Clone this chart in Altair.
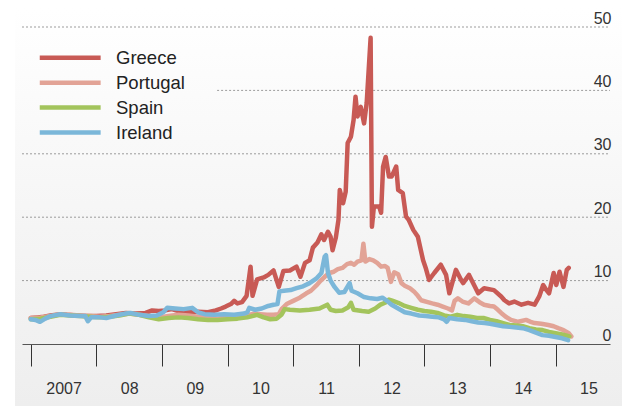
import altair as alt
import pandas as pd

countries = ["Greece", "Portugal", "Spain", "Ireland"]
colors = ["#c85a55", "#e2a396", "#a3c45c", "#7bb7d9"]

greece_years = [2007.00, 2007.10, 2007.20, 2007.30, 2007.45, 2007.55, 2007.70, 2007.85, 2008.00, 2008.15,
                2008.30, 2008.45, 2008.60, 2008.75, 2008.85, 2008.95, 2009.05, 2009.15, 2009.25, 2009.40,
                2009.55, 2009.70, 2009.82, 2009.90, 2009.97, 2010.05, 2010.10, 2010.15, 2010.22, 2010.29,
                2010.35, 2010.38, 2010.45, 2010.55, 2010.62, 2010.70, 2010.78, 2010.85, 2010.95, 2011.05,
                2011.11, 2011.18, 2011.25, 2011.30, 2011.37, 2011.43, 2011.47, 2011.53, 2011.57, 2011.60,
                2011.65, 2011.69, 2011.71, 2011.76, 2011.80, 2011.83, 2011.88, 2011.92, 2011.95, 2011.98,
                2012.03, 2012.08, 2012.12, 2012.18, 2012.20, 2012.23, 2012.31, 2012.34, 2012.37, 2012.41,
                2012.46, 2012.50, 2012.57, 2012.60, 2012.67, 2012.72, 2012.76, 2012.83, 2012.90, 2012.98,
                2013.02, 2013.07, 2013.15, 2013.25, 2013.33, 2013.38, 2013.48, 2013.56, 2013.59, 2013.68,
                2013.82, 2013.91, 2014.06, 2014.17, 2014.22, 2014.29, 2014.37, 2014.48, 2014.58, 2014.68,
                2014.75, 2014.81, 2014.86, 2014.90, 2014.97, 2015.01, 2015.06, 2015.12, 2015.17, 2015.20]
greece_vals = [4.1, 4.2, 4.3, 4.5, 4.7, 4.6, 4.5, 4.4, 4.4, 4.5,
               4.7, 4.9, 4.8, 4.9, 5.3, 5.2, 5.3, 5.5, 5.2, 5.0,
               5.1, 5.0, 5.3, 5.6, 5.9, 6.3, 6.8, 6.4, 6.6, 7.6,
               12.2, 7.6, 10.2, 10.5, 10.9, 11.6, 9.0, 11.5, 11.6, 12.2,
               10.6, 12.8, 13.2, 15.2, 16.0, 17.3, 16.4, 17.7, 16.9, 14.8,
               16.8, 19.6, 24.3, 22.2, 24.0, 31.7, 32.7, 35.3, 39.0, 35.9,
               37.4, 34.8, 38.0, 48.3, 18.5, 21.7, 21.7, 20.7, 28.0, 29.5,
               26.4, 26.4, 28.0, 24.3, 23.8, 20.1, 19.6, 18.0, 16.9, 13.2,
               12.0, 10.1, 11.2, 12.5, 10.9, 8.0, 11.7, 10.1, 9.6, 10.9,
               8.0, 8.8, 8.5, 7.5, 6.9, 6.4, 6.7, 6.2, 6.5, 6.2,
               7.5, 9.3, 8.5, 8.0, 11.2, 9.3, 11.4, 9.0, 11.7, 12.0]

portugal_years = [2007.00, 2007.15, 2007.30, 2007.45, 2007.60, 2007.75, 2007.90, 2008.05, 2008.20, 2008.35,
                  2008.50, 2008.65, 2008.80, 2008.95, 2009.10, 2009.25, 2009.40, 2009.55, 2009.70, 2009.85,
                  2010.00, 2010.15, 2010.30, 2010.40, 2010.50, 2010.60, 2010.70, 2010.78, 2010.83, 2010.90,
                  2011.00, 2011.10, 2011.20, 2011.27, 2011.35, 2011.42, 2011.48, 2011.55, 2011.62, 2011.68,
                  2011.75, 2011.82, 2011.88, 2011.93, 2011.98, 2012.04, 2012.07, 2012.10, 2012.16, 2012.22,
                  2012.28, 2012.34, 2012.40, 2012.44, 2012.49, 2012.54, 2012.60, 2012.65, 2012.70, 2012.78,
                  2012.84, 2012.90, 2012.95, 2013.05, 2013.12, 2013.20, 2013.28, 2013.36, 2013.42, 2013.46,
                  2013.51, 2013.58, 2013.67, 2013.76, 2013.84, 2013.91, 2014.00, 2014.06, 2014.12, 2014.17,
                  2014.24, 2014.32, 2014.43, 2014.55, 2014.62, 2014.68, 2014.78, 2014.89, 2014.97, 2015.04,
                  2015.12, 2015.20, 2015.24]
portugal_vals = [4.1, 4.2, 4.4, 4.7, 4.6, 4.5, 4.4, 4.3, 4.4, 4.6,
                 4.8, 4.6, 4.4, 4.2, 4.4, 4.6, 4.5, 4.3, 4.2, 4.0,
                 4.3, 4.4, 4.5, 4.8, 4.7, 4.6, 4.6, 4.7, 5.6, 6.3,
                 6.8, 7.3, 8.0, 8.4, 9.2, 10.0, 10.6, 11.2, 11.4, 11.8,
                 12.0, 12.6, 12.8, 12.5, 13.0, 13.2, 15.8, 13.0, 13.4, 13.2,
                 12.8, 12.2, 12.3, 12.0, 9.8, 11.3, 11.0, 9.6, 9.2, 8.8,
                 8.3, 7.6, 6.9, 6.6, 6.4, 6.2, 5.9, 5.6, 5.3, 6.8,
                 7.2, 6.7, 6.4, 7.2, 6.6, 6.2, 6.0, 5.9, 5.4, 4.9,
                 4.3, 3.8, 3.5, 3.8, 3.5, 3.3, 3.2, 3.0, 2.8, 2.5,
                 2.2, 1.7, 1.2]

spain_years = [2007.00, 2007.15, 2007.30, 2007.45, 2007.60, 2007.75, 2007.90, 2008.05, 2008.20, 2008.35,
               2008.50, 2008.65, 2008.80, 2008.95, 2009.10, 2009.25, 2009.40, 2009.55, 2009.70, 2009.85,
               2010.00, 2010.15, 2010.30, 2010.45, 2010.55, 2010.65, 2010.75, 2010.82, 2010.87, 2010.95,
               2011.10, 2011.25, 2011.40, 2011.52, 2011.57, 2011.65, 2011.75, 2011.84, 2011.88, 2011.92,
               2012.05, 2012.15, 2012.25, 2012.33, 2012.40, 2012.46, 2012.52, 2012.60, 2012.70, 2012.80,
               2012.90, 2013.00, 2013.10, 2013.20, 2013.30, 2013.40, 2013.50, 2013.60, 2013.70, 2013.80,
               2013.90, 2014.00, 2014.10, 2014.20, 2014.30, 2014.40, 2014.50, 2014.60, 2014.70, 2014.80,
               2014.90, 2015.00, 2015.10, 2015.21]
spain_vals = [3.9, 4.0, 4.3, 4.6, 4.5, 4.4, 4.3, 4.2, 4.3, 4.5,
              4.8, 4.6, 4.2, 3.9, 4.1, 4.2, 4.1, 3.9, 3.8, 3.8,
              3.9, 4.0, 4.2, 4.6, 4.2, 3.9, 4.0, 4.6, 5.5, 5.4,
              5.3, 5.4, 5.6, 6.2, 5.4, 5.2, 5.3, 5.8, 6.5, 5.4,
              5.2, 5.1, 5.6, 6.2, 6.5, 7.0, 6.8, 6.5, 6.0, 5.7,
              5.4, 5.2, 5.1, 4.9, 4.5, 4.3, 4.6, 4.4, 4.3, 4.1,
              4.1, 3.8, 3.6, 3.3, 3.0, 2.9, 2.8, 2.5, 2.3, 2.2,
              1.9, 1.7, 1.5, 1.2]

ireland_years = [2007.00, 2007.07, 2007.14, 2007.22, 2007.30, 2007.45, 2007.60, 2007.75, 2007.83, 2007.87,
                 2007.92, 2008.05, 2008.15, 2008.30, 2008.45, 2008.52, 2008.65, 2008.80, 2008.92, 2009.02,
                 2009.08, 2009.20, 2009.33, 2009.46, 2009.55, 2009.65, 2009.80, 2009.95, 2010.10, 2010.25,
                 2010.30, 2010.33, 2010.42, 2010.52, 2010.62, 2010.70, 2010.76, 2010.79, 2010.86, 2010.96,
                 2011.05, 2011.15, 2011.25, 2011.35, 2011.43, 2011.48, 2011.50, 2011.53, 2011.57, 2011.63,
                 2011.70, 2011.78, 2011.86, 2011.89, 2011.98, 2012.08, 2012.18, 2012.28, 2012.36, 2012.43,
                 2012.50, 2012.60, 2012.70, 2012.80, 2012.92, 2013.02, 2013.12, 2013.22, 2013.30, 2013.34,
                 2013.38, 2013.50, 2013.62, 2013.72, 2013.82, 2013.92, 2014.00, 2014.10, 2014.20, 2014.30,
                 2014.40, 2014.50, 2014.60, 2014.70, 2014.80, 2014.90, 2015.00, 2015.10, 2015.19]
ireland_vals = [3.9, 3.8, 3.5, 4.0, 4.4, 4.7, 4.5, 4.4, 4.4, 3.6,
                4.2, 4.2, 4.1, 4.5, 4.8, 4.9, 4.6, 4.4, 4.5, 5.0,
                5.7, 5.6, 5.5, 5.7, 5.0, 4.7, 4.6, 4.7, 4.6, 4.8,
                5.0, 5.7, 5.4, 5.6, 6.0, 6.2, 6.3, 8.3, 8.4, 8.5,
                8.8, 9.1, 9.6, 10.3, 11.2, 13.8, 14.0, 11.2, 10.0, 9.0,
                8.1, 8.2, 9.6, 8.4, 8.0, 7.4, 7.2, 7.1, 7.3, 6.8,
                6.2, 5.6, 5.0, 4.8, 4.5, 4.4, 4.3, 4.2, 3.9, 3.5,
                4.1, 3.9, 3.8, 3.6, 3.4, 3.3, 3.2, 3.0, 2.8, 2.7,
                2.6, 2.5, 2.2, 1.8, 1.4, 1.3, 1.1, 0.9, 0.6]

year_ticks = [2007, 2008, 2009, 2010, 2011, 2012, 2013, 2014, 2015]
year_labels = ["2007", "08", "09", "10", "11", "12", "13", "14", "15"]
y_ticks = [0, 10, 20, 30, 40, 50]
x_domain = [2006.866, 2015.829]
grid_values = [10, 20, 30, 40, 50]
grid_start = [2006.866, 2006.866, 2006.866, 2009.84, 2006.866]

series = [("Greece", greece_years, greece_vals), ("Portugal", portugal_years, portugal_vals),
          ("Spain", spain_years, spain_vals), ("Ireland", ireland_years, ireland_vals)]
rows = []
for name, ys, vs in series:
    for yr, v in zip(ys, vs):
        rows.append({"country": name, "year": yr, "value": v})
df = pd.DataFrame(rows)

grid_df = pd.DataFrame({"value": grid_values, "start": grid_start, "end": [x_domain[1]] * len(grid_values)})

FONT = "Liberation Sans"
xscale = alt.Scale(domain=x_domain, nice=False, zero=False)
yscale = alt.Scale(domain=[0, 50], nice=False, zero=True)

label_expr = "[" + ",".join("'%s'" % s for s in year_labels) + "][datum.value - %d]" % year_ticks[0]
xaxis = alt.Axis(values=year_ticks, labelExpr=label_expr, tickSize=22, tickColor="#333333", tickWidth=1,
                 domainColor="#555555", domainWidth=1, labelOffset=32.8, labelPadding=14,
                 labelFontSize=16, labelColor="#333333", labelFont=FONT, grid=False, title=None,
                 labelFlush=False, labelOverlap=False, labelBaseline="top", labelAlign="center",
                 zindex=1)
yaxis = alt.Axis(orient="right", values=y_ticks, grid=False, domain=False, ticks=False, tickSize=0,
                 labelAlign="right", labelPadding=1, labelOffset=-4, labelBaseline="alphabetic",
                 labelFontSize=16, labelColor="#333333", labelFont=FONT, title=None, labelOverlap=False,
                 zindex=1)

bg = alt.Chart(pd.DataFrame({"k": [0]})).mark_rect(
    fill=alt.LinearGradient(
        gradient="linear",
        stops=[alt.GradientStop(color="#ffffff", offset=0),
               alt.GradientStop(color="#f5f5f5", offset=0.55),
               alt.GradientStop(color="#eeeeee", offset=1)],
        x1=0, x2=0, y1=0, y2=1),
    strokeWidth=0,
).encode(x=alt.value(-7), x2=alt.value(600), y=alt.value(-19), y2=alt.value(379))

grid = alt.Chart(grid_df).mark_rule(color="#9c9c9c", strokeDash=[2, 2], strokeWidth=1).encode(
    x=alt.X("start:Q", scale=xscale, axis=xaxis),
    x2="end:Q",
    y=alt.Y("value:Q", scale=yscale, axis=yaxis),
)

lines = alt.Chart(df).mark_line(strokeWidth=4.5, strokeJoin="round", strokeCap="round").encode(
    x=alt.X("year:Q", scale=xscale, axis=xaxis),
    y=alt.Y("value:Q", scale=yscale, axis=yaxis),
    color=alt.Color("country:N", scale=alt.Scale(domain=countries, range=colors), sort=countries,
                    legend=alt.Legend(title=None, orient="none", legendX=35.7, legendY=18.3,
                                      symbolType="M-3,0H3", symbolSize=412, symbolStrokeWidth=4.5,
                                      labelOffset=33.3, rowPadding=2.9, labelFont=FONT,
                                      labelFontSize=18.5, labelColor="#222222", padding=0,
                                      offset=0, labelLimit=200)),
)

chart = alt.layer(bg, grid, lines).properties(
    width=588, height=317,
    padding={"left": 14, "top": 19, "right": 12, "bottom": 62},
    autosize=alt.AutoSizeParams(type="none"),
    background="#ffffff",
).configure_view(stroke=None)

chart.save("out.html", embed_options={"renderer": "svg", "actions": False})
